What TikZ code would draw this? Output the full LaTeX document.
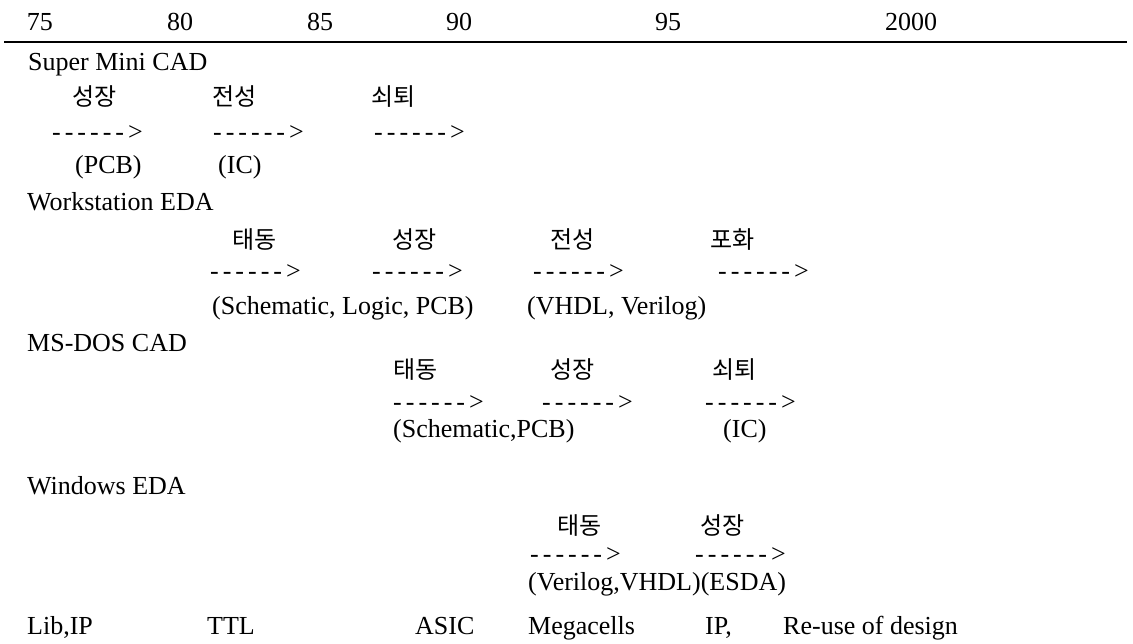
\documentclass[tikz,border=0pt]{standalone}
\usepackage{fontspec}
\setmainfont{Liberation Serif}
\newfontfamily\kofont{Noto Sans CJK KR}
\newcommand{\dasharr}{-\kern4pt-\kern4pt-\kern4pt-\kern4pt-\kern4pt-\kern4pt>}

\begin{document}
\begin{tikzpicture}[x=1pt,y=-1pt]
\tikzstyle{every node}+=[inner sep=0pt]
\tikzstyle{txt}=[anchor=base west,font=\fontsize{26}{30}\selectfont]
\tikzstyle{yr}=[anchor=base,font=\fontsize{26}{30}\selectfont]
\tikzstyle{ko}=[anchor=base west,font=\kofont\fontsize{24}{28}\selectfont]
\tikzstyle{arr}=[anchor=base west,font=\fontsize{26}{30}\selectfont]
\useasboundingbox (0,0) rectangle (1133,644);
\fill [white] (0,0) rectangle (1133,644);
\node [yr] (y75) at (40,31) {75};
\node [yr] (y80) at (180,31) {80};
\node [yr] (y85) at (320,31) {85};
\node [yr] (y90) at (459,31) {90};
\node [yr] (y95) at (668,31) {95};
\node [yr] (y00) at (911,31) {2000};
\coordinate (axl) at (4,42);
\coordinate (axr) at (1127,42);
\draw [black, line width=1.3pt] (axl) -- (axr);
\node [txt] (smc) at (28,71) {Super Mini CAD};
\node [ko] (smc1) at (72,106) {성장};
\node [ko] (smc2) at (212,106) {전성};
\node [ko] (smc3) at (371,106) {쇠퇴};
\node [arr] (smca1) at (52,141) {\dasharr};
\node [arr] (smca2) at (213,141) {\dasharr};
\node [arr] (smca3) at (374,141) {\dasharr};
\node [txt] (smcp1) at (75,174) {(PCB)};
\node [txt] (smcp2) at (218,174) {(IC)};
\node [txt] (ws) at (27,211) {Workstation EDA};
\node [ko] (ws1) at (232,249) {태동};
\node [ko] (ws2) at (392,249) {성장};
\node [ko] (ws3) at (550,249) {전성};
\node [ko] (ws4) at (710,249) {포화};
\node [arr] (wsa1) at (210,280) {\dasharr};
\node [arr] (wsa2) at (372,280) {\dasharr};
\node [arr] (wsa3) at (533,280) {\dasharr};
\node [arr] (wsa4) at (718,280) {\dasharr};
\node [txt] (wsp1) at (212,315) {(Schematic, Logic, PCB)};
\node [txt] (wsp2) at (527,315) {(VHDL, Verilog)};
\node [txt] (dos) at (27,352) {MS-DOS CAD};
\node [ko] (dos1) at (393,379) {태동};
\node [ko] (dos2) at (550,379) {성장};
\node [ko] (dos3) at (712,379) {쇠퇴};
\node [arr] (dosa1) at (393,410) {\dasharr};
\node [arr] (dosa2) at (542,410) {\dasharr};
\node [arr] (dosa3) at (705,410) {\dasharr};
\node [txt] (dosp1) at (393,437) {(Schematic,PCB)};
\node [txt] (dosp2) at (723,437) {(IC)};
\node [txt] (win) at (27,494) {Windows EDA};
\node [ko] (win1) at (557,534) {태동};
\node [ko] (win2) at (700,534) {성장};
\node [arr] (wina1) at (530,562) {\dasharr};
\node [arr] (wina2) at (695,562) {\dasharr};
\node [txt] (winp1) at (528,590) {(Verilog,VHDL)(ESDA)};
\node [txt] (lib) at (27,634) {Lib,IP};
\node [txt] (ttl) at (207,634) {TTL};
\node [txt] (asic) at (415,634) {ASIC};
\node [txt] (mega) at (528,634) {Megacells};
\node [txt] (ip) at (705,634) {IP,};
\node [txt] (reuse) at (783,634) {Re-use of design};
\end{tikzpicture}
\end{document}
